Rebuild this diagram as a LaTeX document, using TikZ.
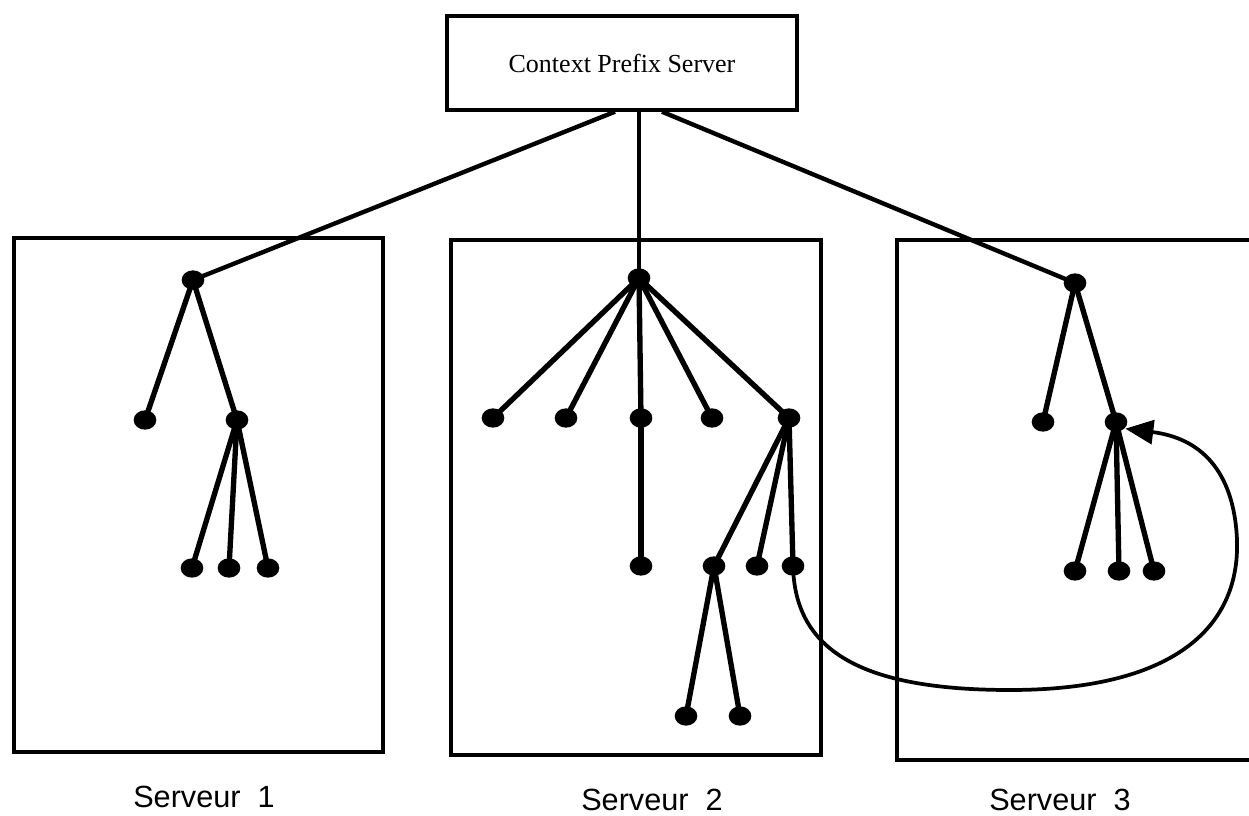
\documentclass[tikz,border=0pt]{standalone}
\usepackage{fontspec}
\setmainfont{Liberation Serif}
\newfontfamily\labelfont{Liberation Sans}
\usetikzlibrary{shapes.geometric,arrows.meta}
\pgfdeclarelayer{bg}
\pgfsetlayers{bg,main}
\begin{document}
\begin{tikzpicture}[x=0.75pt,y=-0.75pt,
  dot/.style={ellipse,fill=black,inner sep=0pt,minimum width=17pt,minimum height=14.5pt},
  edge/.style={line width=4pt},
  link/.style={line width=3.3pt},
  frame/.style={draw,line width=2.6pt},
  srvlabel/.style={font=\labelfont\fontsize{23}{27}\selectfont,anchor=base}]
\useasboundingbox (0,0) rectangle (1249,816);
\begin{scope}
\clip (0,0) rectangle (1249,816);

% context prefix server
\node[frame,minimum width=262.5pt,minimum height=70.5pt,
      font=\fontsize{19.5}{23}\selectfont] (cps) at (622,63) {Context Prefix Server};

% server frames
\draw[frame] (14,238) rectangle (383,752);
\draw[frame] (451,240) rectangle (821,755);
\draw[frame] (897,240) rectangle (1270,760);

% server 1 tree
\node[dot] (r1) at (193,280) {};
\node[dot] (a1) at (145,420) {};
\node[dot] (b1) at (237,420) {};
\node[dot] (c1) at (192,568) {};
\node[dot] (d1) at (229,568) {};
\node[dot] (e1) at (268,568) {};

% server 2 tree
\node[dot] (r2) at (639,278) {};
\node[dot] (a2) at (493,418) {};
\node[dot] (b2) at (566,418) {};
\node[dot] (c2) at (641,418) {};
\node[dot] (d2) at (712,418) {};
\node[dot] (e2) at (789,418) {};
\node[dot] (f2) at (641,566) {};
\node[dot] (g2) at (714,566) {};
\node[dot] (h2) at (757,566) {};
\node[dot] (i2) at (793,566) {};
\node[dot] (j2) at (686,716) {};
\node[dot] (k2) at (740,716) {};

% server 3 tree
\node[dot] (r3) at (1075,283) {};
\node[dot] (a3) at (1043,422) {};
\node[dot] (b3) at (1116,422) {};
\node[dot] (c3) at (1075,571) {};
\node[dot] (d3) at (1119,571) {};
\node[dot] (e3) at (1154,571) {};

% attachment points under the prefix server
\coordinate (cl) at ([xshift=-5.25pt]cps.south);
\coordinate (cm) at ([xshift=12.75pt]cps.south);
\coordinate (cr) at ([xshift=30pt]cps.south);

\begin{pgfonlayer}{bg}
  \draw[link] (cl) -- (r1.center);
  \draw[line width=2.6pt] (cm) -- (r2.center);
  \draw[link] (cr) -- (r3.center);

  \draw[edge] (r1.center) -- (a1.center);
  \draw[edge] (r1.center) -- (b1.center);
  \foreach \n in {c1,d1,e1} \draw[edge] (b1.center) -- (\n.center);

  \foreach \n in {a2,b2,c2,d2,e2} \draw[edge] (r2.center) -- (\n.center);
  \draw[edge] (c2.center) -- (f2.center);
  \foreach \n in {g2,h2,i2} \draw[edge] (e2.center) -- (\n.center);
  \foreach \n in {j2,k2} \draw[edge] (g2.center) -- (\n.center);

  \draw[edge] (r3.center) -- (a3.center);
  \draw[edge] (r3.center) -- (b3.center);
  \foreach \n in {c3,d3,e3} \draw[edge] (b3.center) -- (\n.center);

  % cross-server reference
  \coordinate (tip) at ([xshift=7pt,yshift=-5pt]b3.center);
  \draw[line width=2.8pt,-{Triangle[length=21pt,width=18pt]}]
    (i2.center) .. controls (795,650) and (860,690) .. (1010,690)
    .. controls (1170,690) and (1240,630) .. (1237,540)
    .. controls (1234,470) and (1200,438) .. (tip);
\end{pgfonlayer}
\end{scope}

% server labels
\node[srvlabel] (s1) at (204,807) {Serveur\ \ 1};
\node[srvlabel] (s2) at (652,810) {Serveur\ \ 2};
\node[srvlabel] (s3) at (1060,810) {Serveur\ \ 3};
\end{tikzpicture}
\end{document}
